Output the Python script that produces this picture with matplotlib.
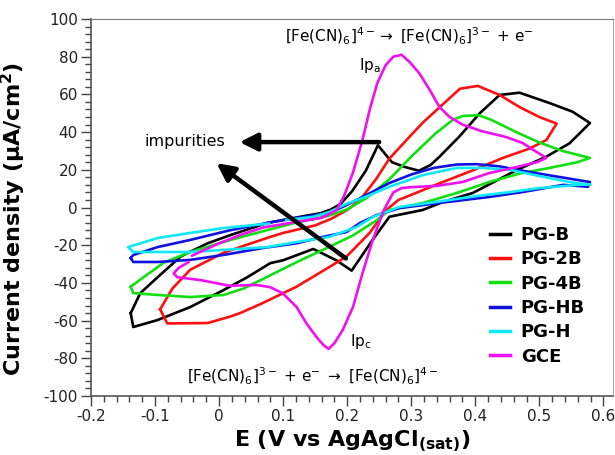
import matplotlib
matplotlib.use("Agg")
import matplotlib.pyplot as plt
from matplotlib.ticker import MultipleLocator, FixedLocator

plt.rcParams['font.family'] = ['DejaVu Sans']
plt.rcParams['axes.unicode_minus'] = False
plt.rcParams['mathtext.fontset'] = 'dejavusans'

# ---- data (E in V, j in uA/cm2) ----
black_E = [-0.138, -0.123, -0.096, -0.06, -0.018, 0.018, 0.075, 0.135, 0.159, 0.175, 0.19, 0.208, 0.229, 0.248,
           0.27, 0.29, 0.312, 0.33, 0.344, 0.375, 0.407, 0.438, 0.469, 0.516, 0.552, 0.579, 0.547, 0.511, 0.465,
           0.396, 0.35, 0.318, 0.266, 0.24, 0.207, 0.183, 0.147, 0.1, 0.08, 0.044, 0.007, -0.045, -0.096, -0.134, -0.138]
black_j = [-56, -45.4, -37, -26, -19, -14.6, -8.2, -4.4, -3, -1, 2, 8.8, 19.5, 33,
           24, 21.5, 19.5, 22.5, 26.9, 37.6, 50, 59.7, 60.9, 55.4, 50.8, 44.8, 34, 27, 19.9,
           7.7, 3, -1.3, -4.9, -17, -33.5, -28, -22, -28, -29.5, -37, -43.8, -52.8, -59.7, -63.4, -56]

red_E = [-0.092, -0.073, -0.045, 0.007, 0.05, 0.08, 0.1, 0.15, 0.175, 0.2, 0.22, 0.245, 0.266, 0.3, 0.318,
         0.355, 0.376, 0.404, 0.438, 0.469, 0.5, 0.527, 0.511, 0.485, 0.443, 0.396, 0.344, 0.292, 0.28, 0.261,
         0.235, 0.199, 0.172, 0.121, 0.068, 0.033, 0.016, -0.018, -0.081, -0.092]
red_j = [-54, -43, -33, -24, -19, -15.6, -13.5, -9.5, -6, -1.3, 4, 15, 26, 38.5, 45,
         56.5, 63, 64.5, 59.7, 53.3, 48, 44.5, 35.8, 31.3, 26.3, 19.7, 12.8, 5.6, 4, -1.3,
         -13.5, -26, -31.6, -42, -50.7, -56, -58, -61.3, -61.5, -54]

green_E = [-0.138, -0.118, -0.087, -0.045, 0.018, 0.075, 0.12, 0.17, 0.2, 0.23, 0.266, 0.3, 0.337, 0.365,
           0.38, 0.405, 0.425, 0.464, 0.5, 0.536, 0.579, 0.559, 0.516, 0.469, 0.422, 0.371, 0.318, 0.266,
           0.245, 0.208, 0.165, 0.121, 0.068, 0.038, 0.007, -0.045, -0.096, -0.134, -0.138]
green_j = [-42, -37, -29.4, -23.6, -17.2, -12, -8, -4.5, -1, 5, 15, 27, 39, 46.5,
           48.5, 49, 46.5, 40, 34.5, 30, 26.3, 24, 21, 18, 13.5, 7.7, 2.4, -1.3,
           -7, -15, -22, -29, -38, -43, -46.4, -47.5, -46.4, -45.4, -42]

blue_E = [-0.138, -0.134, -0.096, -0.045, 0.018, 0.075, 0.12, 0.172, 0.199, 0.224, 0.246, 0.266, 0.3, 0.335,
          0.371, 0.402, 0.438, 0.49, 0.542, 0.579, 0.576, 0.537, 0.474, 0.422, 0.344, 0.282, 0.246, 0.22,
          0.199, 0.162, 0.121, 0.068, 0.01, -0.045, -0.096, -0.134, -0.138]
blue_j = [-26.8, -25.2, -21, -17.2, -12, -8.2, -5.6, -3, 1.3, 5.6, 9.5, 13, 17.5, 21,
          22.8, 23, 21.8, 18.5, 15.6, 13.5, 11, 12, 8.2, 5.6, 2.4, -0.3, -4, -8.2,
          -13, -15.6, -19, -21.5, -25, -27.8, -28.9, -28.9, -26.8]

cyan_E = [0.078, 0.007, -0.045, -0.096, -0.142, -0.134, -0.096, -0.045, 0.007, 0.075, 0.121, 0.172, 0.215,
          0.24, 0.282, 0.33, 0.4, 0.45, 0.5, 0.56, 0.58, 0.579, 0.547, 0.5, 0.454, 0.413, 0.371, 0.318,
          0.266, 0.224, 0.199, 0.172, 0.146, 0.105]
cyan_j = [-8.5, -10.9, -13.5, -16.2, -21, -23.6, -23.6, -23.6, -22.5, -21, -18.3, -15.6, -10.3,
          -5, 0.3, 2.5, 6, 8, 10.3, 12, 12.3, 12, 13.5, 16.7, 20, 21, 21, 17.2,
          11, 5, 2, -2.4, -5, -6.6]

gce_E = [-0.042, 0.0, 0.033, 0.07, 0.12, 0.16, 0.183, 0.195, 0.209, 0.224, 0.236, 0.247, 0.26, 0.272, 0.285,
         0.298, 0.313, 0.329, 0.344, 0.36, 0.38, 0.41, 0.448, 0.474, 0.496, 0.511, 0.496, 0.465, 0.422, 0.38,
         0.34, 0.3, 0.285, 0.272, 0.257, 0.24, 0.224, 0.209, 0.193, 0.18, 0.171, 0.163, 0.152, 0.136, 0.121,
         0.099, 0.079, 0.058, 0.016, -0.029, -0.065, -0.071, -0.063, -0.048]
gce_j = [-25.5, -19, -14.6, -10.5, -7.7, -5.5, -1.5, 6, 18.5, 36, 53, 66, 75.5, 80, 81,
         77, 71, 62.3, 53.3, 48, 44, 40.5, 37.4, 34.2, 29.4, 26.3, 24, 21.5, 18.3, 13.5,
         11.5, 10.8, 10.3, 8, -1.5, -17.2, -34.7, -52.8, -65, -72, -75, -73, -68.7, -61.3, -52.8,
         -45.4, -42.2, -41.1, -41.5, -38.5, -37, -35, -32, -29]

labels = ['PG-B', 'PG-2B', 'PG-4B', 'PG-HB', 'PG-H', 'GCE']
colors = ['#000000', '#ff1010', '#10e010', '#1010e0', '#10e8f8', '#f010f0']
series = [(black_E, black_j), (red_E, red_j), (green_E, green_j),
          (blue_E, blue_j), (cyan_E, cyan_j), (gce_E, gce_j)]

x_ticks = [-0.2, -0.1, 0, 0.1, 0.2, 0.3, 0.4, 0.5, 0.6]
x_ticklabels = ['-0.2', '-0.1', '0', '0.1', '0.2', '0.3', '0.4', '0.5', '0.6']
y_ticks = [-100, -80, -60, -40, -20, 0, 20, 40, 60, 80, 100]
y_ticklabels = ['-100', '-80', '-60', '-40', '-20', '0', '20', '40', '60', '80', '100']

# ---- figure ----
fig = plt.figure(figsize=(6.15, 4.55), dpi=100)
ax = fig.add_axes([91 / 615, 1 - 396 / 455, (613 - 91) / 615, (396 - 19) / 455])

for (E, j), c, lab in zip(series, colors, labels):
    ax.plot(E, j, color=c, lw=1.9, label=lab, solid_joinstyle='round')

ax.set_xlim(-0.2, 0.615)
ax.set_ylim(-100, 100)
ax.xaxis.set_major_locator(FixedLocator(x_ticks))
ax.set_xticklabels(x_ticklabels)
ax.yaxis.set_major_locator(FixedLocator(y_ticks))
ax.set_yticklabels(y_ticklabels)
ax.xaxis.set_minor_locator(MultipleLocator(0.02))
ax.yaxis.set_minor_locator(MultipleLocator(4))
ax.tick_params(which='major', direction='out', length=7.5, width=1.0, color='#444444',
               labelsize=11, labelcolor='#222222', pad=2)
ax.tick_params(which='minor', direction='out', length=4, width=1.0, color='#444444')
ax.tick_params(top=False, right=False, which='both')

for s in ['left', 'bottom']:
    ax.spines[s].set_color('#555555')
    ax.spines[s].set_linewidth(1.2)
ax.spines['top'].set_color('#777777')
ax.spines['right'].set_color('#aaaaaa')

ax.set_xlabel(r'E (V vs AgAgCl$_{\mathbf{(sat)}}$)', fontsize=16, fontweight='bold', va='top')
ax.set_ylabel(r'Current density (μA/cm$^{\mathbf{2}}$)', fontsize=16, fontweight='bold')
ax.xaxis.set_label_coords(0.5, -0.085)
ax.yaxis.set_label_coords(-0.12, 0.47)

# annotations
ax.text(0.297, 90.5, r'[Fe(CN)$_6$]$^{4-}$$\rightarrow$ [Fe(CN)$_6$]$^{3-}$ + e$^{-}$',
        ha='center', va='center', fontsize=11)
ax.text(0.146, -89.6, r'[Fe(CN)$_6$]$^{3-}$ + e$^{-}$ $\rightarrow$ [Fe(CN)$_6$]$^{4-}$',
        ha='center', va='center', fontsize=11)
ax.text(0.236, 75.5, r'Ip$_\mathrm{a}$', ha='center', va='center', fontsize=11)
ax.text(0.221, -71, r'Ip$_\mathrm{c}$', ha='center', va='center', fontsize=11)
ax.text(-0.053, 35, 'impurities', ha='center', va='center', fontsize=11.5)

arrow_kw = dict(arrowstyle='-|>,head_length=0.7,head_width=0.35', lw=3.2, color='black',
                mutation_scale=15, shrinkA=0, shrinkB=0)
ax.annotate('', xy=(0.032, 34.7), xytext=(0.25, 34.7), arrowprops=arrow_kw)
ax.annotate('', xy=(-0.004, 23.5), xytext=(0.198, -27), arrowprops=arrow_kw)

leg = ax.legend(loc='upper left', bbox_to_anchor=(490 / 615, 1 - 226 / 455),
                bbox_transform=fig.transFigure, frameon=False, handlelength=1.1,
                handletextpad=0.6, labelspacing=0.35, borderpad=0, borderaxespad=0,
                prop={'weight': 'bold', 'size': 13})
for h in leg.legend_handles:
    h.set_linewidth(2.5)

fig.savefig('out.png', dpi=100)
